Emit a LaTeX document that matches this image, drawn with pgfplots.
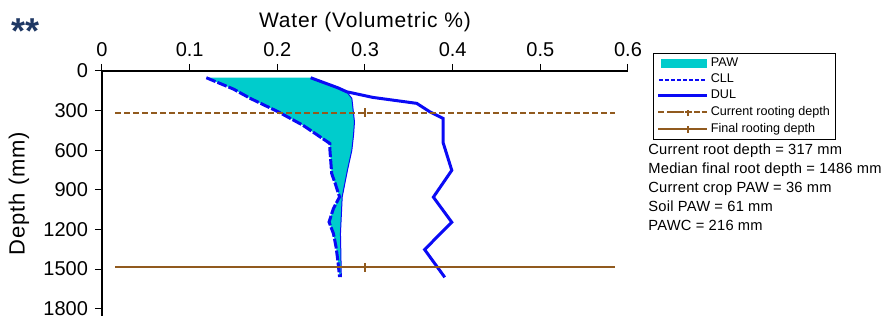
\documentclass[border=0pt]{standalone}
\usepackage{fontspec}
\setmainfont{Liberation Sans}
\newfontfamily\spfont[LetterSpace=4]{Liberation Sans}
\newfontfamily\txfont[LetterSpace=1.5]{Liberation Sans}
\usepackage{pgfplots}
\pgfplotsset{compat=1.18}
\definecolor{pawc}{RGB}{0,204,204}
\definecolor{dblue}{RGB}{10,10,245}
\definecolor{brownc}{RGB}{145,90,30}
\definecolor{starc}{RGB}{31,56,100}
\begin{document}
\begin{tikzpicture}
\path[use as bounding box] (0pt,0pt) rectangle (442pt,-160pt);
\node[anchor=base west, inner sep=0pt, text=starc, font=\fontsize{18}{18}\selectfont\bfseries] at (5.3pt,-21.9pt) {**};
\begin{axis}[
  at={(51pt,-35.5pt)}, anchor=north west,
  scale only axis, width=263pt, height=122.5pt,
  xmin=0, xmax=0.6, ymin=0, ymax=1855,
  y dir=reverse,
  axis x line*=top, axis y line*=left,
  axis line style={line width=1pt, -},
  xtick={0,0.1,0.2,0.3,0.4,0.5,0.6},
  xticklabels={0,0.1,0.2,0.3,0.4,0.5,0.6},
  ytick={0,300,600,900,1200,1500,1800},
  yticklabels={0,300,600,900,1200,1500,1800},
  tick align=outside, major tick length=3.5pt,
  tick style={black, line width=0.5pt},
  ticklabel style={font=\fontsize{10}{12}\selectfont},
  xlabel={Water (Volumetric \%)},
  ylabel={Depth (mm)},
  label style={font=\spfont\fontsize{10.5}{12}\selectfont},
  xlabel style={at={(axis description cs:0.5,1.20)}, anchor=center},
  ylabel style={at={(axis description cs:-0.158,0.5)}, anchor=center, font=\spfont\fontsize{11}{12}\selectfont},
  legend style={at={(axis description cs:1.0475,1.0735)}, anchor=north west,
    draw=black, line width=0.6pt, font=\fontsize{6.3}{7}\selectfont,
    inner xsep=1.5pt, inner ysep=0.8pt, nodes={inner sep=1.15pt}},
  legend cell align=left,
]
\addplot[fill=pawc, draw=none,
  legend image code/.code={\fill[pawc] (1.5pt,-2.2pt) rectangle (24.5pt,2.2pt);}]
  coordinates {(0.119,51) (0.150,137) (0.169,207) (0.201,309) (0.229,410) (0.260,549)
    (0.260,600) (0.262,776) (0.266,852) (0.271,953) (0.264,1041) (0.259,1143)
    (0.264,1231) (0.267,1333) (0.269,1434) (0.271,1560)
    (0.273,1560) (0.272,1231) (0.274,953) (0.280,751) (0.285,600) (0.287,480)
    (0.288,385) (0.285,207) (0.279,157) (0.269,127) (0.238,51)} -- cycle;
\addlegendentry{PAW}
\addplot[dblue, line width=0.5pt, forget plot]
  coordinates {(0.279,157) (0.285,207) (0.288,385) (0.287,480) (0.285,600)
    (0.280,751) (0.274,953) (0.272,1231) (0.273,1560)};
\addplot[dblue, line width=1.5pt, dash pattern=on 5pt off 1pt,
  legend image code/.code={\draw[dblue, line width=1pt, dash pattern=on 2pt off 1pt] (0.5pt,0pt) -- (24.5pt,0pt);}]
  coordinates {(0.119,51) (0.150,137) (0.169,207) (0.201,309) (0.229,410) (0.260,549)
    (0.260,600) (0.262,776) (0.266,852) (0.271,953) (0.264,1041) (0.259,1143)
    (0.264,1231) (0.267,1333) (0.269,1434) (0.271,1560)};
\addlegendentry{CLL}
\addplot[dblue, line width=1.5pt,
  legend image code/.code={\draw[dblue, line width=1.5pt] (0pt,0pt) -- (24.5pt,0pt);}]
  coordinates {(0.238,51) (0.269,127) (0.279,157) (0.309,200) (0.359,245) (0.374,309)
    (0.389,359) (0.389,540) (0.399,752) (0.378,955) (0.399,1145) (0.368,1352) (0.391,1562)};
\addlegendentry{DUL}
\addplot[brownc, line width=1pt, dash pattern=on 3pt off 1.5pt,
  mark=|, mark indices={2}, mark size=2.2pt, mark options={solid, line width=0.6pt},
  legend image code/.code={\draw[brownc, line width=1pt, dash pattern=on 2.5pt off 1.2pt] (7pt,0pt) -- (23pt,0pt);
    \draw[brownc, line width=0.6pt] (15pt,-1.8pt) -- (15pt,1.8pt); \path (0pt,0pt) -- (24.5pt,0pt);}]
  coordinates {(0.015,317) (0.3,317) (0.585,317)};
\addlegendentry{Current rooting depth}
\addplot[brownc, line width=1pt,
  mark=|, mark indices={2}, mark size=2.2pt, mark options={solid, line width=0.6pt},
  legend image code/.code={\draw[brownc, line width=1pt] (7pt,0pt) -- (23pt,0pt);
    \draw[brownc, line width=0.6pt] (15pt,-1.8pt) -- (15pt,1.8pt); \path (0pt,0pt) -- (24.5pt,0pt);}]
  coordinates {(0.015,1486) (0.3,1486) (0.585,1486)};
\addlegendentry{Final rooting depth}
\end{axis}
\begin{scope}[every node/.style={anchor=west, inner sep=0pt, font=\txfont\fontsize{7.35}{9}\selectfont}]
\node at (324pt,-75.5pt) {Current root depth = 317 mm};
\node at (324pt,-84.7pt) {Median final root depth = 1486 mm};
\node at (324pt,-94.2pt) {Current crop PAW = 36 mm};
\node at (324pt,-103.3pt) {Soil PAW = 61 mm};
\node at (324pt,-112.5pt) {PAWC = 216 mm};
\end{scope}
\end{tikzpicture}
\end{document}
